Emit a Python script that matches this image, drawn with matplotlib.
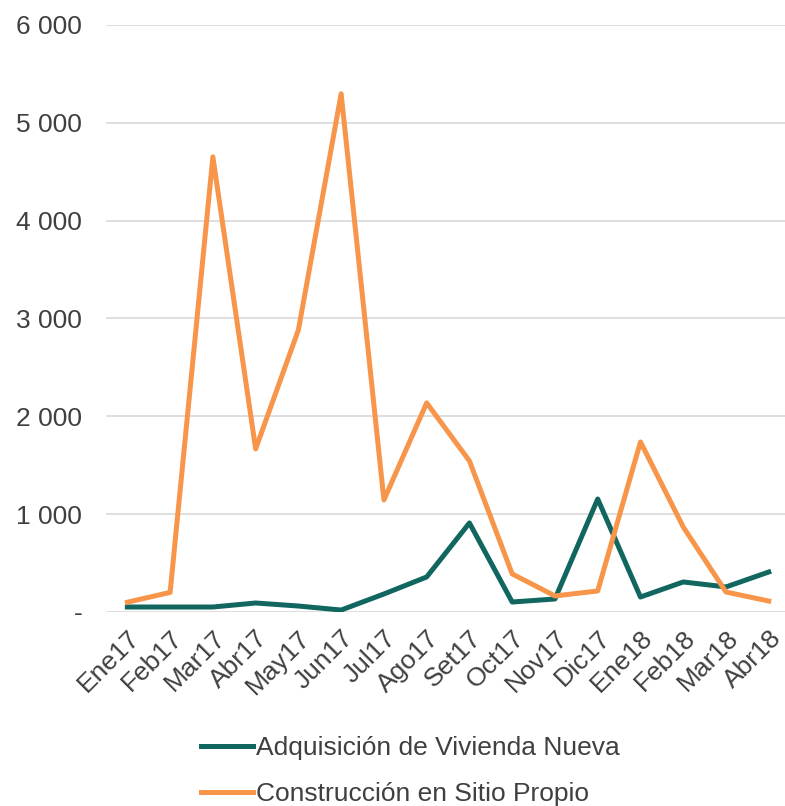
import numpy as np
import matplotlib.pyplot as plt
from matplotlib.ticker import FuncFormatter

plt.rcParams['font.family'] = ['Liberation Sans', 'DejaVu Sans']

# meses
meses = ['Ene17', 'Feb17', 'Mar17', 'Abr17', 'May17', 'Jun17', 'Jul17', 'Ago17',
         'Set17', 'Oct17', 'Nov17', 'Dic17', 'Ene18', 'Feb18', 'Mar18', 'Abr18']
# series
adquisicion = [51, 51, 51, 92, 61, 20, 184, 358, 910, 102, 133, 1155, 153, 307, 256, 409]
construccion = [100, 200, 4652, 1667, 2883, 5297, 1145, 2137, 1544, 389, 164, 215,
                1738, 869, 204, 112]

verde = '#11675F'
naranja = '#F7964A'
gris = '#404040'

fig = plt.figure(figsize=(7.85, 8.06), dpi=100)
ax = fig.add_axes([0.135, 0.2407, 0.865, 0.7283])

x = np.arange(len(meses))
ax.plot(x, adquisicion, color=verde, lw=3.6, label='Adquisición de Vivienda Nueva')
ax.plot(x, construccion, color=naranja, lw=3.6, label='Construcción en Sitio Propio')

ax.set_xlim(-0.5, 15.38)
ax.set_ylim(0, 6000)
ax.set_yticks(range(0, 6001, 1000))


def fmt(v, pos):
    if v == 0:
        return '-'
    return '{:,.0f}'.format(v).replace(',', ' ')


ax.yaxis.set_major_formatter(FuncFormatter(fmt))
ax.grid(axis='y', color='#D9D9D9', lw=1.2)
ax.set_axisbelow(True)
for s in ax.spines.values():
    s.set_visible(False)
ax.tick_params(axis='both', length=0, labelsize=19, colors=gris)
ax.tick_params(axis='y', pad=17)
ax.set_xticks(x)
ax.set_xticklabels(meses, rotation=45, ha='right', rotation_mode='anchor')
ax.tick_params(axis='x', pad=10)

fig.legend(loc='upper left', bbox_to_anchor=(0.242, 0.1), frameon=False,
           fontsize=19, handlelength=2.0, handletextpad=0.12, labelspacing=0.83,
           labelcolor=gris, borderaxespad=0)

fig.savefig('out.png', dpi=100)
